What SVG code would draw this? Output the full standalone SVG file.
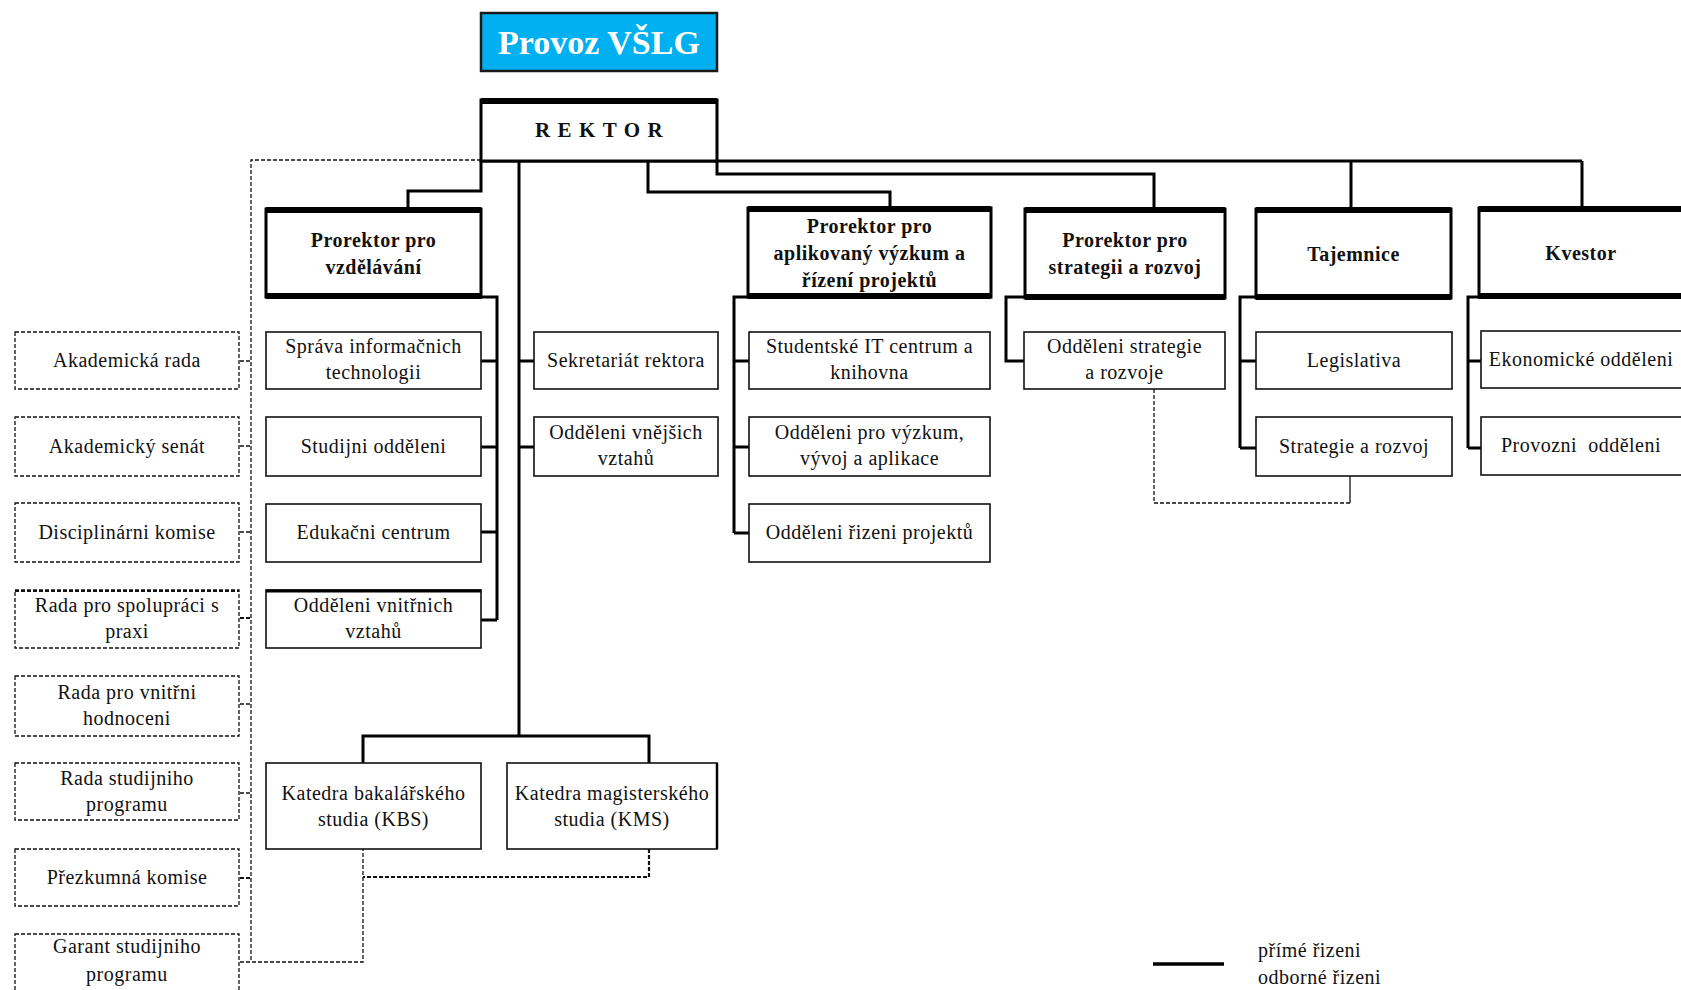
<svg xmlns="http://www.w3.org/2000/svg" width="1681" height="990" viewBox="0 0 1681 990">
<style>
text{font-family:"Liberation Serif","Times New Roman",serif;font-size:20px;fill:#111;text-anchor:middle;letter-spacing:0.5px}
.b{font-weight:bold}
.head{fill:#fff;stroke:#000;stroke-width:3}
.top{stroke:#000;stroke-width:6;fill:none}
.sub{fill:#fff;stroke:#111;stroke-width:1.6}
.dbox{fill:#fff;stroke:#111;stroke-width:1.3;stroke-dasharray:4 2}
.solid{fill:none;stroke:#000;stroke-width:3}
.thin{fill:none;stroke:#111;stroke-width:1.3}
.dash{fill:none;stroke:#111;stroke-width:1.3;stroke-dasharray:4 2}
.dash2{fill:none;stroke:#111;stroke-width:2.2;stroke-dasharray:4 2}
</style>
<rect width="1681" height="990" fill="#fff"/>

<g id="connectors">
<path class="solid" d="M481 161H1582M481 161V191H408V209M519 161V736M363 763V736H649V763M648 161V192H890V208M717 161V174H1154V209M1351 161V209M1582 161V208"/>
<path class="solid" d="M481 297H497V620M481 361H497M481 447H497M481 532H497M481 620H497"/>
<path class="solid" d="M519 361H534M519 447H534"/>
<path class="solid" d="M748 297H734V533M734 361H749M734 447H749M734 533H749"/>
<path class="solid" d="M1025 297H1006V361H1024"/>
<path class="solid" d="M1256 297H1240V448M1240 361H1256M1240 448H1256"/>
<path class="solid" d="M1479 297H1468V448M1468 361H1481M1468 448H1481"/>
<path class="thin" d="M1350 476V503"/>
<path class="dash" d="M481 160H251V962M240 361H251M240 446H251M240 532H251M240 704H251M240 793H251M240 962H363V849"/>
<path class="dash2" d="M240 618H251M240 878H251M649 849V877H363"/>
<path class="dash" d="M1154 389V503H1350"/>
</g>

<g id="provoz">
<rect x="481" y="13" width="236" height="58" fill="#00B0F0" stroke="#1a1a1a" stroke-width="2.5"/>
<text x="599" y="54" class="b" style="font-size:34px;fill:#fff;letter-spacing:0">Provoz VŠLG</text>
</g>

<g id="rektor">
<rect x="481" y="100" width="236" height="61" class="head"/>
<path class="top" d="M481 101H717"/>
<text x="535" y="137" class="b" style="font-size:21px;text-anchor:start;letter-spacing:7.4px">REKTOR</text>
</g>

<g id="prorektor-vzdelavani">
<rect x="266" y="209" width="215" height="88" class="head"/>
<path class="top" d="M266 210H481M266 296H481"/>
<text x="373.5" y="247" class="b">Prorektor pro</text>
<text x="373.5" y="274" class="b">vzdělávání</text>
</g>
<g id="prorektor-aplikovany">
<rect x="748" y="208" width="243" height="89" class="head"/>
<path class="top" d="M748 209H991M748 296H991"/>
<text x="869.5" y="233" class="b">Prorektor pro</text>
<text x="869.5" y="260" class="b">aplikovaný výzkum a</text>
<text x="869.5" y="287" class="b">řízení projektů</text>
</g>
<g id="prorektor-strategie">
<rect x="1025" y="209" width="200" height="89" class="head"/>
<path class="top" d="M1025 210H1225M1025 297H1225"/>
<text x="1125" y="247" class="b">Prorektor pro</text>
<text x="1125" y="274" class="b">strategii a rozvoj</text>
</g>
<g id="tajemnice">
<rect x="1256" y="209" width="195" height="89" class="head"/>
<path class="top" d="M1256 210H1451M1256 297H1451"/>
<text x="1353.5" y="261" class="b">Tajemnice</text>
</g>
<g id="kvestor">
<rect x="1479" y="208" width="212" height="89" class="head"/>
<path class="top" d="M1479 209H1691M1479 296H1691"/>
<text x="1581" y="260" class="b">Kvestor</text>
</g>

<g id="sprava"><rect x="266" y="332" width="215" height="57" class="sub"/><text x="373.5" y="353">Správa informačnich</text><text x="373.5" y="379">technologii</text></g>
<g id="studijni"><rect x="266" y="417" width="215" height="59" class="sub"/><text x="373.5" y="453">Studijni odděleni</text></g>
<g id="edukacni"><rect x="266" y="504" width="215" height="58" class="sub"/><text x="373.5" y="539">Edukačni centrum</text></g>
<g id="vnitrnich"><rect x="266" y="590" width="215" height="58" class="sub"/><path d="M266 591H481" stroke="#000" stroke-width="3"/><text x="373.5" y="612">Odděleni vnitřnich</text><text x="373.5" y="638">vztahů</text></g>

<g id="sekretariat"><rect x="534" y="332" width="184" height="57" class="sub"/><text x="626" y="367">Sekretariát rektora</text></g>
<g id="vnejsich"><rect x="534" y="417" width="184" height="59" class="sub"/><text x="626" y="439">Odděleni vnějšich</text><text x="626" y="465">vztahů</text></g>

<g id="studentske-it"><rect x="749" y="332" width="241" height="57" class="sub"/><text x="869.5" y="353">Studentské IT centrum a</text><text x="869.5" y="379">knihovna</text></g>
<g id="vyzkum"><rect x="749" y="417" width="241" height="59" class="sub"/><text x="869.5" y="439">Odděleni pro výzkum,</text><text x="869.5" y="465">vývoj a aplikace</text></g>
<g id="projekty"><rect x="749" y="504" width="241" height="58" class="sub"/><text x="869.5" y="539">Odděleni řizeni projektů</text></g>

<g id="strategie-rozvoje"><rect x="1024" y="332" width="201" height="57" class="sub"/><text x="1124.5" y="353">Odděleni strategie</text><text x="1124.5" y="379">a rozvoje</text></g>

<g id="legislativa"><rect x="1256" y="332" width="196" height="57" class="sub"/><text x="1354" y="367">Legislativa</text></g>
<g id="strategie-rozvoj"><rect x="1256" y="417" width="196" height="59" class="sub"/><text x="1354" y="453">Strategie a rozvoj</text></g>

<g id="ekonomicke"><rect x="1481" y="331" width="210" height="57" class="sub"/><text x="1581" y="366">Ekonomické odděleni</text></g>
<g id="provozni"><rect x="1481" y="417" width="210" height="58" class="sub"/><text x="1581" y="452" style="white-space:pre">Provozni  odděleni</text></g>

<g id="kbs"><rect x="266" y="763" width="215" height="86" class="sub"/><text x="373.5" y="800">Katedra bakalářského</text><text x="373.5" y="826">studia (KBS)</text></g>
<g id="kms"><rect x="507" y="763" width="210" height="86" class="sub"/><path d="M717 763V849" stroke="#000" stroke-width="2.5"/><text x="612" y="800">Katedra magisterského</text><text x="612" y="826">studia (KMS)</text></g>

<g id="akademicka-rada"><rect x="15" y="332" width="224" height="57" class="dbox"/><text x="127" y="367">Akademická rada</text></g>
<g id="akademicky-senat"><rect x="15" y="417" width="224" height="59" class="dbox"/><text x="127" y="453">Akademický senát</text></g>
<g id="disciplinarni"><rect x="15" y="503" width="224" height="59" class="dbox"/><text x="127" y="539">Disciplinárni komise</text></g>
<g id="spoluprace"><rect x="15" y="590" width="224" height="58" class="dbox"/><path d="M15 591H239" class="dash2"/><text x="127" y="612">Rada pro spolupráci s</text><text x="127" y="638">praxi</text></g>
<g id="vnitrni-hodnoceni"><rect x="15" y="676" width="224" height="60" class="dbox"/><text x="127" y="699">Rada pro vnitřni</text><text x="127" y="725">hodnoceni</text></g>
<g id="rada-studijniho"><rect x="15" y="763" width="224" height="57" class="dbox"/><text x="127" y="785">Rada studijniho</text><text x="127" y="811">programu</text></g>
<g id="prezkumna"><rect x="15" y="849" width="224" height="57" class="dbox"/><text x="127" y="884">Přezkumná komise</text></g>
<g id="garant"><rect x="15" y="934" width="224" height="62" class="dbox"/><text x="127" y="953">Garant studijniho</text><text x="127" y="981">programu</text></g>

<g id="legend">
<path d="M1153 964H1224" stroke="#000" stroke-width="3.5"/>
<text x="1258" y="957" style="text-anchor:start">přímé řizeni</text>
<text x="1258" y="984" style="text-anchor:start">odborné řizeni</text>
</g>
</svg>
